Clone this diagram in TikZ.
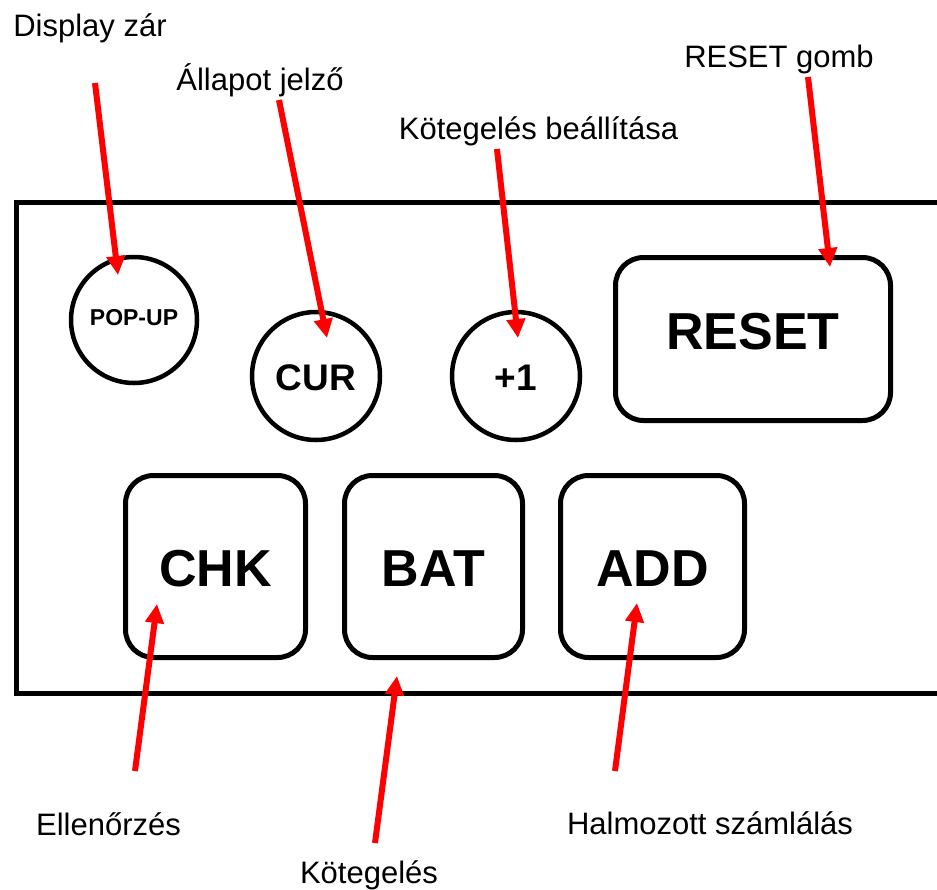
\documentclass[tikz,border=0pt]{standalone}
\usepackage{fontspec}
\setmainfont{Liberation Sans}
\usetikzlibrary{arrows.meta}
\begin{document}
\begin{tikzpicture}[x=1pt,y=-1pt,
  lbl/.style={anchor=base, inner sep=0pt, font=\fontsize{31}{36}\selectfont},
  keybox/.style={draw, line width=5pt, rounded corners=28pt, inner sep=0pt,
    font=\bfseries\fontsize{52}{60}\selectfont},
  knob/.style={draw, circle, line width=4.5pt, inner sep=0pt,
    font=\bfseries\fontsize{37}{44}\selectfont},
  pointer/.style={draw=red, line width=6pt, -{Triangle[width=18pt,length=19pt]}}
]
\useasboundingbox (0,0) rectangle (937,889);
\clip (0,0) rectangle (937,889);

% panel
\draw[line width=5pt] (945,202) -- (16,202) -- (16,693) -- (945,693);

% buttons
\node[knob, minimum size=126pt, text height=17pt, text depth=7pt,
      font=\bfseries\fontsize{23}{28}\selectfont] (popup) at (134,320) {POP-UP};
\node[knob, minimum size=128pt, text height=28pt, text depth=0pt] (cur) at (316,376) {CUR};
\node[knob, minimum size=128pt, text height=28pt, text depth=0pt] (plus) at (516,376) {+1};
\node[keybox, minimum width=275pt, minimum height=163pt, text height=38pt, text depth=18pt] (reset) at (753,339) {RESET};
\node[keybox, minimum width=180pt, minimum height=182pt, text height=39pt, text depth=0pt] (chk) at (215.5,566.5) {CHK};
\node[keybox, minimum width=178pt, minimum height=182pt, text height=39pt, text depth=0pt] (bat) at (433.5,566.5) {BAT};
\node[keybox, minimum width=184pt, minimum height=182pt, text height=39pt, text depth=0pt] (add) at (652.5,566.5) {ADD};

% labels
\node[lbl] (ldisp) at (90,36) {Display zár};
\node[lbl] (lstate) at (260,90) {Állapot jelző};
\node[lbl] (lbatset) at (538.5,139) {Kötegelés beállítása};
\node[lbl] (lreset) at (779,67) {RESET gomb};
\node[lbl] (lchk) at (108.5,835) {Ellenőrzés};
\node[lbl] (lbat) at (369,883) {Kötegelés};
\node[lbl] (ladd) at (710,834) {Halmozott számlálás};

% arrow end points
\coordinate (s1) at (95,83);   \coordinate (t1) at (118,275);
\coordinate (s2) at (279,100); \coordinate (t2) at (327,338);
\coordinate (s3) at (497,149); \coordinate (t3) at (518,338);
\coordinate (s4) at (808,77);  \coordinate (t4) at (830,267);
\coordinate (s5) at (135,771); \coordinate (t5) at (157,604);
\coordinate (s6) at (375,843); \coordinate (t6) at (397,676);
\coordinate (s7) at (615,771); \coordinate (t7) at (637,603);

\draw[pointer] (s1) -- (t1);
\draw[pointer] (s2) -- (t2);
\draw[pointer] (s3) -- (t3);
\draw[pointer] (s4) -- (t4);
\draw[pointer] (s5) -- (t5);
\draw[pointer] (s6) -- (t6);
\draw[pointer] (s7) -- (t7);
\end{tikzpicture}
\end{document}
